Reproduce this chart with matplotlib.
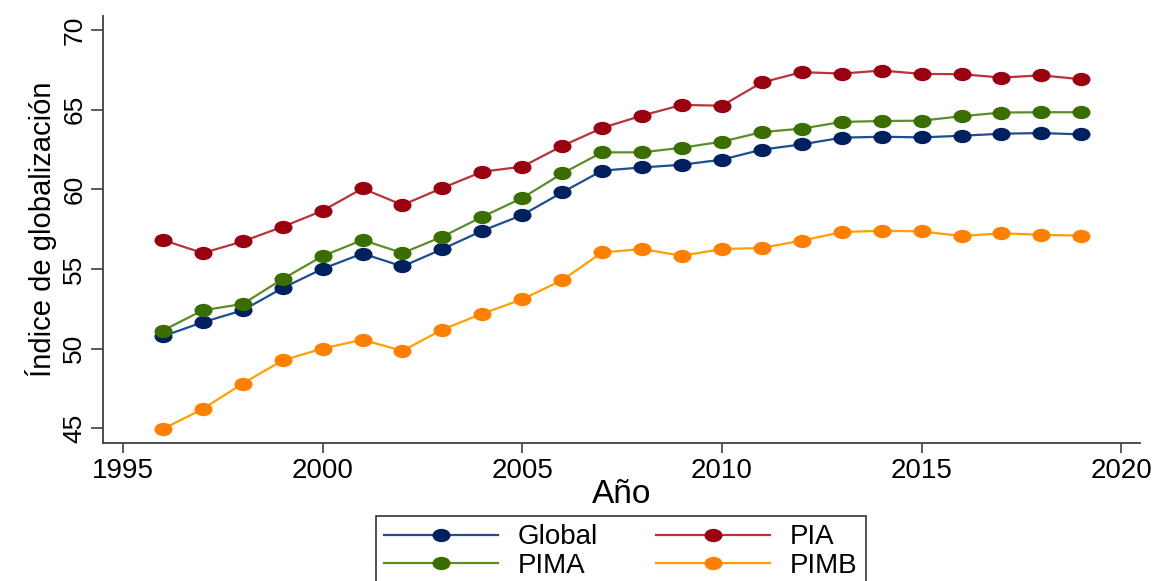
import numpy as np
import matplotlib
matplotlib.use('Agg')
import matplotlib.pyplot as plt
from matplotlib.path import Path
from matplotlib.transforms import Affine2D

plt.rcParams['font.family'] = ['Liberation Sans', 'DejaVu Sans']

# data
years = list(range(1996, 2020))
glob = [50.77, 51.65, 52.40, 53.80, 55.01, 55.97, 55.16, 56.25, 57.40, 58.39, 59.81, 61.18,
        61.38, 61.55, 61.87, 62.50, 62.83, 63.25, 63.31, 63.27, 63.37, 63.50, 63.54, 63.46]
pia = [56.82, 56.00, 56.73, 57.65, 58.66, 60.06, 59.02, 60.09, 61.11, 61.43, 62.73, 63.86,
       64.64, 65.31, 65.26, 66.72, 67.37, 67.28, 67.47, 67.26, 67.24, 67.03, 67.17, 66.92]
pima = [51.13, 52.40, 52.80, 54.37, 55.81, 56.82, 56.00, 57.03, 58.28, 59.46, 61.00, 62.33,
        62.33, 62.62, 63.00, 63.60, 63.82, 64.24, 64.30, 64.32, 64.60, 64.83, 64.85, 64.85]
pimb = [44.94, 46.20, 47.80, 49.25, 50.00, 50.55, 49.85, 51.19, 52.19, 53.09, 54.30, 56.04,
        56.25, 55.83, 56.25, 56.32, 56.78, 57.32, 57.40, 57.36, 57.07, 57.24, 57.15, 57.09]

labels = ['Global', 'PIA', 'PIMA', 'PIMB']
series = [glob, pia, pima, pimb]
mcolors = ['#00205f', '#990010', '#3a6e00', '#ff8000']
lcolors = ['#1d4e8f', '#b8343a', '#5a8e28', '#ffa000']

# wide ellipse marker (reference is horizontally stretched)
ell = Path.unit_circle().transformed(Affine2D().scale(1.4, 1.0))

fig = plt.figure(figsize=(11.58, 5.81), dpi=100)
ax = fig.add_axes([0.0889, 0.2375, 0.8956, 0.735])

handles = {}
for lab, s, mc, lc in zip(labels, series, mcolors, lcolors):
    h, = ax.plot(years, s, color=lc, lw=1.6, marker=ell, markersize=12,
                 markerfacecolor=mc, markeredgecolor=mc, label=lab)
    handles[lab] = h

ax.set_xlim(1994.5, 2020.47)
ax.set_ylim(44.06, 70.9)
ax.set_xticks([1995, 2000, 2005, 2010, 2015, 2020])
ax.set_yticks([45, 50, 55, 60, 65, 70])

for side in ['top', 'right']:
    ax.spines[side].set_visible(False)
for side in ['left', 'bottom']:
    ax.spines[side].set_color('#404040')
    ax.spines[side].set_linewidth(1.3)

ax.tick_params(axis='x', length=7, width=1.2, color='#404040', labelsize=20, pad=4)
ax.tick_params(axis='y', length=9, width=1.2, color='#404040', labelsize=19, pad=3)
for t in ax.get_yticklabels():
    t.set_rotation(90)
    t.set_va('center')

ax.set_xlabel('Año', fontsize=24, labelpad=-4)
ax.set_ylabel('Índice de globalización', fontsize=21, labelpad=4)

order = ['Global', 'PIMA', 'PIA', 'PIMB']
leg = fig.legend([handles[k] for k in order], order, ncol=2, loc='upper left',
                 bbox_to_anchor=(376 / 1158, 1 - 516 / 581), fontsize=20,
                 frameon=True, fancybox=False, edgecolor='black',
                 handlelength=4.1, handletextpad=0.7, columnspacing=2.1,
                 borderpad=0.3, labelspacing=0.1, borderaxespad=0)
leg.get_frame().set_linewidth(1.2)

fig.savefig('out.png', dpi=100)
